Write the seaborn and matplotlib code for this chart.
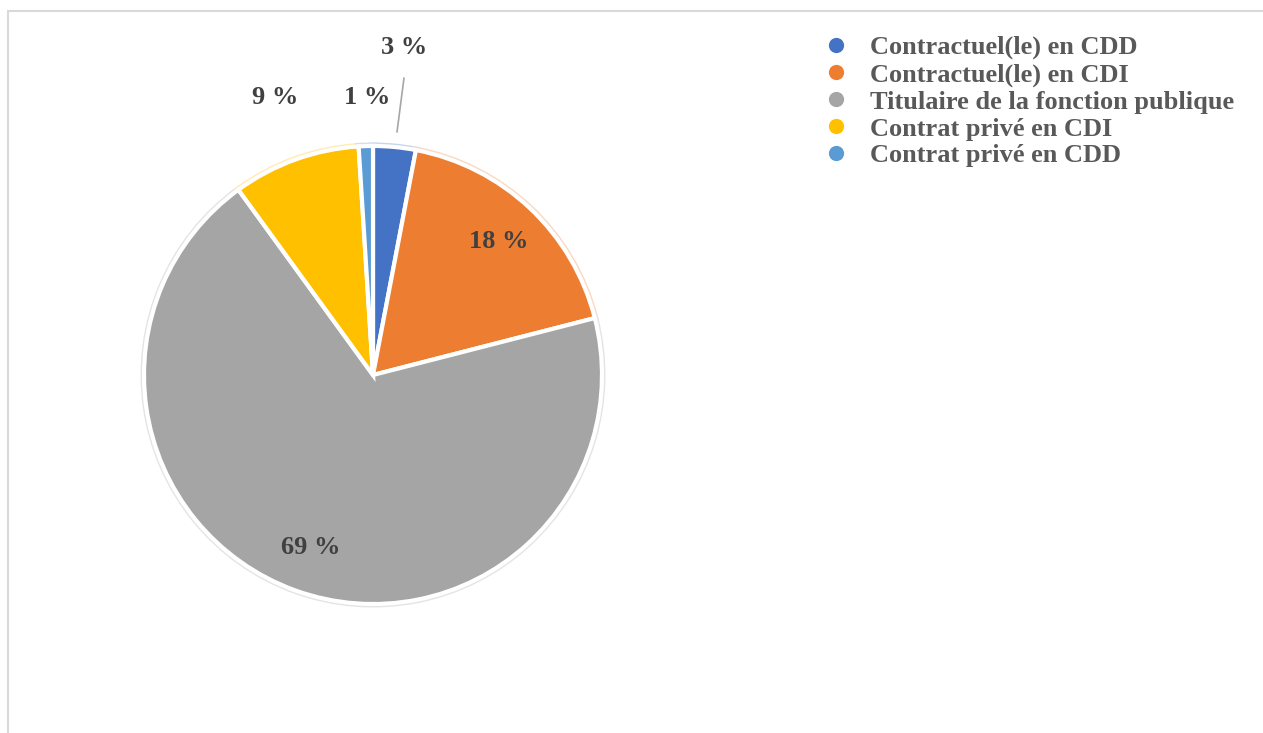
import matplotlib
matplotlib.use("Agg")
import matplotlib.pyplot as plt
from matplotlib.patches import Rectangle
from matplotlib.lines import Line2D
from matplotlib.colors import to_rgb
import seaborn as sns

categories = [
    "Contractuel(le) en CDD",
    "Contractuel(le) en CDI",
    "Titulaire de la fonction publique",
    "Contrat privé en CDI",
    "Contrat privé en CDD",
]
shares = [3, 18, 69, 9, 1]
colors = ["#4472C4", "#ED7D31", "#A5A5A5", "#FFC000", "#5B9BD5"]

sns.set_theme(style="white")
plt.rcParams["font.family"] = ["Liberation Serif", "DejaVu Serif"]

W, H = 1263, 733
fig = plt.figure(figsize=(W / 100, H / 100), dpi=100)
ax = fig.add_axes([0, 0, 1, 1])


def px(x, y):
    """Pixel position measured from the top-left corner -> axes data."""
    return x, H - y


def tint(c, amount=0.7):
    r, g, b = to_rgb(c)
    return (r + (1 - r) * amount, g + (1 - g) * amount, b + (1 - b) * amount)


# chart frame
fig.patches.append(Rectangle((8 / W, -0.1), 1.2, (H - 11) / H + 0.1,
                             transform=fig.transFigure, fill=False,
                             edgecolor="#d9d9d9", linewidth=1.5))

cx, cy = px(373, 375)
r = 229
pie_kw = dict(startangle=90, counterclock=False, center=(cx, cy), radius=r,
              explode=[0.016] * len(shares), frame=True)

# soft halo of each slice colour around the white separators
halo, _ = ax.pie(shares, colors=colors,
                 wedgeprops=dict(linewidth=5, zorder=1), **pie_kw)
for w, c in zip(halo, colors):
    w.set_edgecolor(tint(c))

wedges, texts, autotexts = ax.pie(
    shares, colors=colors,
    wedgeprops=dict(edgecolor="white", linewidth=3, zorder=2),
    autopct=lambda p: f"{p:.0f} %", pctdistance=0.8,
    textprops=dict(fontsize=19, fontweight="bold", color="#404040", zorder=5),
    **pie_kw,
)
ax.set_xlim(0, W)
ax.set_ylim(0, H)
ax.set_aspect("equal")
ax.axis("off")

# small slices get their labels outside the pie
outside = {0: (404, 47), 4: (367, 97), 3: (275, 97)}
for i, (x, y) in outside.items():
    autotexts[i].set_position(px(x, y))
    autotexts[i].set_ha("center")
    autotexts[i].set_va("center")
(x0, y0), (x1, y1) = px(397, 132), px(404, 78)
ax.plot([x0, x1], [y0, y1], color="#a6a6a6", linewidth=1.2)

handles = [Line2D([0], [0], marker="o", linestyle="", markersize=12,
                  markerfacecolor=c, markeredgecolor="white") for c in colors]
leg = fig.legend(handles, categories, loc="upper left",
                 bbox_to_anchor=(812 / W, 1 - 25 / H), frameon=False,
                 prop=dict(size=19, weight="bold"), labelspacing=0.13,
                 handletextpad=0.8, handlelength=1.0, borderaxespad=0)
for t in leg.get_texts():
    t.set_color("#595959")

fig.savefig("out.png", dpi=100, facecolor="white")
